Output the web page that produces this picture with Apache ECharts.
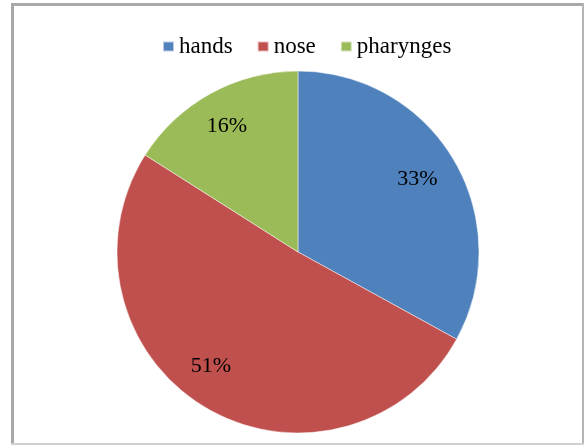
<!DOCTYPE html>
<html>
<head>
<meta charset="utf-8">
<script src="https://cdn.jsdelivr.net/npm/echarts@6/dist/echarts.min.js"></script>
<style>
html,body{margin:0;padding:0;background:#fff;}
#chart{width:584px;height:445px;}
</style>
</head>
<body>
<div id="chart"></div>
<script>
var categories = ['hands', 'nose', 'pharynges'];
var values = [33, 51, 16];
var colors = ['#4F81BD', '#C0504D', '#9BBB59'];

// label nudges (Excel best-fit placement), style only
var labelNudge = [[-4, 0], [-14, -9], [-2, 0]];

var chart = echarts.init(document.getElementById('chart'), null, {renderer: 'canvas'});

var pieData = categories.map(function (c, i) {
  return { name: c, value: values[i], itemStyle: { color: colors[i] } };
});
var labelData = categories.map(function (c, i) {
  return { name: c, value: values[i], label: { offset: labelNudge[i] } };
});

var serif = 'Liberation Serif';

var option = {
  animation: false,
  backgroundColor: '#fff',
  textStyle: { fontFamily: serif, fontSize: 23, color: '#000' },
  legend: {
    show: true,
    data: categories,
    top: 30,
    left: 157,
    itemWidth: 11,
    itemHeight: 10,
    itemGap: 24,
    icon: 'rect',
    textStyle: { fontFamily: serif, fontSize: 23, color: '#000' },
    selectedMode: false
  },
  graphic: [
    { type: 'line', shape: { x1: 12.5, y1: 3, x2: 12.5, y2: 445 }, style: { stroke: '#a8a8a8', lineWidth: 3 } },
    { type: 'line', shape: { x1: 11, y1: 4.5, x2: 584, y2: 4.5 }, style: { stroke: '#a8a8a8', lineWidth: 3 } },
    { type: 'line', shape: { x1: 583, y1: 3, x2: 583, y2: 445 }, style: { stroke: '#b4b4b4', lineWidth: 2 } },
    { type: 'line', shape: { x1: 11, y1: 444, x2: 584, y2: 444 }, style: { stroke: '#d0d0d0', lineWidth: 2 } }
  ],
  series: [
    {
      type: 'pie',
      center: [298, 252],
      radius: [0, 181],
      startAngle: 90,
      clockwise: true,
      silent: true,
      label: { show: false },
      labelLine: { show: false },
      itemStyle: { borderColor: 'rgba(255,255,255,0.6)', borderWidth: 0.8 },
      data: pieData
    },
    {
      type: 'pie',
      center: [298, 252],
      radius: [100, 181],
      startAngle: 90,
      clockwise: true,
      silent: true,
      itemStyle: { color: 'rgba(0,0,0,0)' },
      label: {
        show: true,
        position: 'inside',
        formatter: function (p) { return p.value + '%'; },
        fontFamily: serif,
        fontSize: 22,
        color: '#000'
      },
      labelLine: { show: false },
      data: labelData
    }
  ]
};
chart.setOption(option);
</script>
</body>
</html>
